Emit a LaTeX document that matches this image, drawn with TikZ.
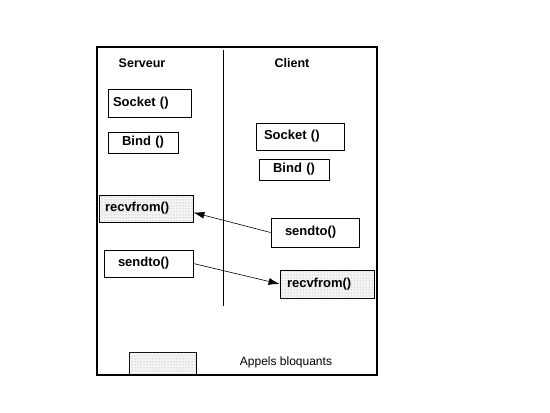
\documentclass[tikz,border=0pt]{standalone}
\usepackage{fontspec}
\setmainfont{Liberation Sans}
\usetikzlibrary{arrows.meta,positioning,patterns,calc}

\tikzset{
  callbox/.style={draw, line width=0.8pt, inner ysep=0pt, align=left,
    font=\fontsize{13}{14}\selectfont\bfseries},
  blocking/.style={callbox, fill=gray!8, postaction={pattern=dots, pattern color=gray!80}},
  title/.style={font=\fontsize{12.5}{14}\selectfont\bfseries},
  msg/.style={-{Latex[length=11pt,width=7pt]}, line width=0.6pt},
}

\begin{document}
\begin{tikzpicture}[x=1pt, y=-1pt, >=Latex]

        \useasboundingbox[fill=white] (0,0) rectangle (550,413);

        % Frame and divider
        \draw[line width=1.1pt] (97,47) rectangle (377,375);
        \coordinate (top) at (223,50);
        \coordinate (bottom) at (223,306);
        \draw[line width=0.6pt] (top) -- (bottom);

        % Titles
        \node[title] (serveur) at (142,63) {Serveur};
        \node[title] (client) at (292,63) {Client};

        % Server side
        \node[callbox, inner xsep=5pt, text width=73pt, minimum height=28pt] (ssocket) at (149.5,103) {Socket ()};
        \node[callbox, align=center, inner xsep=4pt, text width=62pt, minimum height=21pt] (sbind) at (143,142.5) {Bind ()};
        \node[blocking, inner xsep=6pt, text width=82pt, minimum height=27pt] (srecv) at (146,208.5) {recvfrom()};
        \node[callbox, inner xsep=14pt, text width=61pt, minimum height=27pt] (ssend) at (148.5,263.5) {sendto()};

        % Client side
        \node[callbox, inner xsep=8pt, text width=72pt, minimum height=27pt] (csocket) at (300,136.5) {Socket ()};
        \node[callbox, align=center, inner xsep=4pt, text width=62pt, minimum height=21pt] (cbind) at (294,169.5) {Bind ()};
        \node[callbox, inner xsep=14pt, text width=60pt, minimum height=29pt] (csend) at (315,232.5) {sendto()};
        \node[blocking, inner xsep=7pt, text width=80pt, minimum height=28pt] (crecv) at (327,284) {recvfrom()};

        % Messages
        \draw[msg] (csend.west) -- ($(srecv.east)+(0,4)$);
        \draw[msg] (ssend.east) -- (crecv.west);

        % Legend
        \node[blocking, minimum width=67pt, minimum height=22pt, inner sep=0pt] (legend) at (162.5,363) {};
        \node[font=\fontsize{12}{14}\selectfont] (legendtext) at (286,362) {Appels bloquants};

\end{tikzpicture}
\end{document}
